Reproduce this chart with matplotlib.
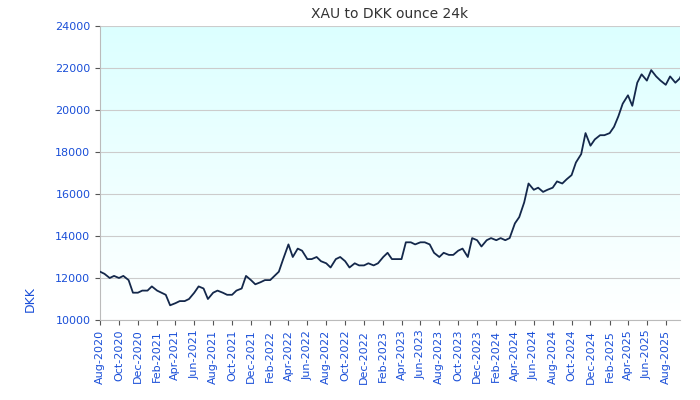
import matplotlib
matplotlib.use('Agg')
import matplotlib.pyplot as plt
import matplotlib.dates as mdates
import numpy as np
import pandas as pd

# semi-monthly readings (1st and 16th), Aug 2020 .. early Sep 2025
values = [
    12300, 12200, 12000, 12100, 12000, 12100, 11900, 11300, 11300, 11400,
    11400, 11600,
    11400, 11300, 11200, 10700, 10800, 10900, 10900, 11000, 11300, 11600,
    11500, 11000, 11300, 11400, 11300, 11200, 11200, 11400, 11500, 12100,
    11900, 11700, 11800, 11900,
    11900, 12100, 12300, 12900, 13600, 13000, 13400, 13300, 12900, 12900,
    13000, 12800, 12700, 12500, 12900, 13000, 12800, 12500, 12700, 12600,
    12600, 12700, 12600, 12700,
    13000, 13200, 12900, 12900, 12900, 13700, 13700, 13600, 13700, 13700,
    13600, 13200, 13000, 13200, 13100, 13100, 13300, 13400, 13000, 13900,
    13800, 13500, 13800, 13900,
    13800, 13900, 13800, 13900, 14600, 14900, 15600, 16500, 16200, 16300,
    16100, 16200, 16300, 16600, 16500, 16700, 16900, 17500, 17900, 18900,
    18300, 18600, 18800, 18800,
    18900, 19200, 19700, 20300, 20700, 20200, 21300, 21700, 21400, 21900,
    21600, 21400, 21200, 21600, 21300, 21500, 22000,
]
dates = pd.date_range('2020-08-01', periods=len(values), freq='SMS')

fig = plt.figure(figsize=(7, 4), dpi=100)
ax = fig.add_axes([0.143, 0.2, 0.828, 0.735])

# gradient background
grad = np.linspace(1, 0, 256).reshape(-1, 1)
cmap = matplotlib.colors.LinearSegmentedColormap.from_list('bg', ['#ffffff', '#dcffff'])
ax.imshow(grad, aspect='auto', cmap=cmap, origin='upper',
          extent=[mdates.date2num(pd.Timestamp('2020-08-01')),
                  mdates.date2num(pd.Timestamp('2025-09-15')), 10000, 24000],
          zorder=0)

ax.plot(dates, values, color='#14284b', lw=1.3, zorder=3)
ax.set_xlim(pd.Timestamp('2020-08-01'), pd.Timestamp('2025-09-15'))
ax.set_ylim(10000, 24000)
ax.set_yticks(range(10000, 24001, 2000))
ax.grid(axis='y', color='#cccccc', lw=0.8, zorder=1)

ax.xaxis.set_major_locator(mdates.MonthLocator(bymonth=[2, 4, 6, 8, 10, 12]))
ax.xaxis.set_major_formatter(mdates.DateFormatter('%b-%Y'))
plt.setp(ax.get_xticklabels(), rotation=90)
ax.tick_params(colors='#555555', labelcolor='#1a4fd8', labelsize=8)

for s in ['top', 'right']:
    ax.spines[s].set_visible(False)
for s in ['left', 'bottom']:
    ax.spines[s].set_color('#bbbbbb')

ax.set_title('XAU to DKK ounce 24k', fontsize=10, color='#333333')
ax.set_ylabel('DKK', color='#1a4fd8', fontsize=9)
ax.yaxis.set_label_coords(-0.11, 0.07)

fig.savefig('out.png', dpi=100)
